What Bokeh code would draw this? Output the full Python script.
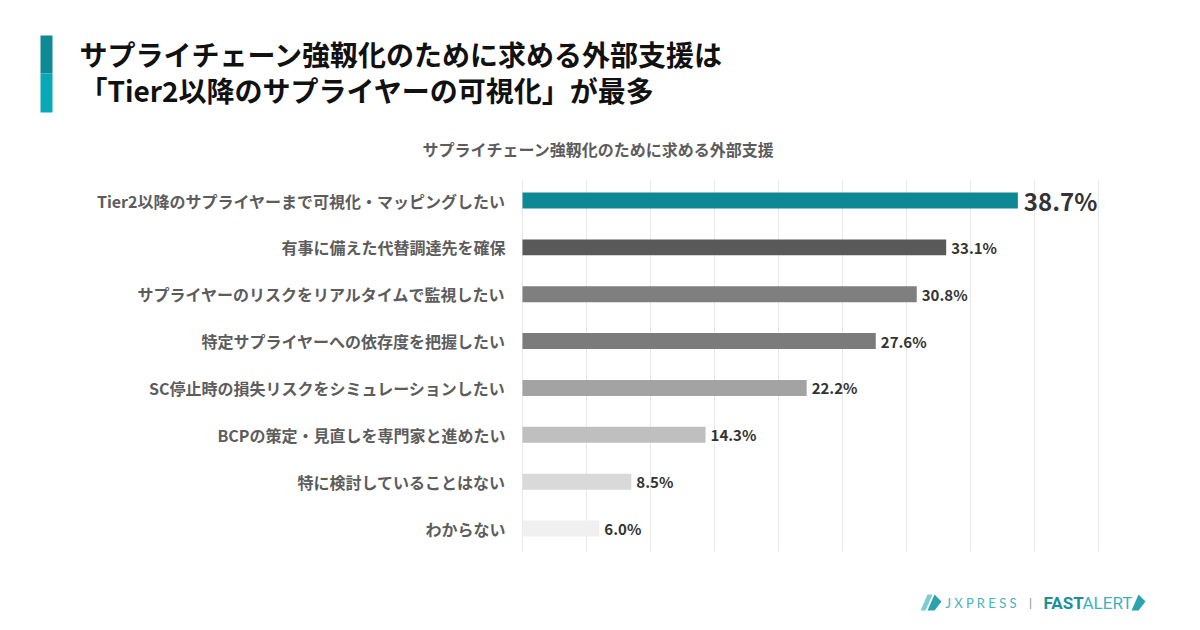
from bokeh.plotting import figure
from bokeh.models import Range1d, ColumnDataSource
from bokeh.core.properties import value
from bokeh.embed import file_html
from bokeh.resources import INLINE

categories = [
    "Tier2以降のサプライヤーまで可視化・マッピングしたい",
    "有事に備えた代替調達先を確保",
    "サプライヤーのリスクをリアルタイムで監視したい",
    "特定サプライヤーへの依存度を把握したい",
    "SC停止時の損失リスクをシミュレーションしたい",
    "BCPの策定・見直しを専門家と進めたい",
    "特に検討していることはない",
    "わからない",
]
values = [38.7, 33.1, 30.8, 27.6, 22.2, 14.3, 8.5, 6.0]
colors = ["#0e8893", "#595959", "#7f7f7f", "#7b7b7b", "#a3a3a3", "#bfbfbf", "#d9d9d9", "#f0f0f0"]
x_ticks = [0, 5, 10, 15, 20, 25, 30, 35, 40, 45]

title_lines = ["サプライチェーン強靱化のために求める外部支援は", "「Tier2以降のサプライヤーの可視化」が最多"]
subtitle = "サプライチェーン強靱化のために求める外部支援"

FONT = "Noto Sans CJK JP"
W, H = 1200, 630

# layout of the plotting area in page pixels
X0_PX = 522.0      # pixel of value 0
PX_PER_UNIT = 12.8  # pixels per percentage point
Y0_PX = 200.0      # pixel of first category centre
PX_PER_ROW = 46.86

x_start = -X0_PX / PX_PER_UNIT
x_end = (W - X0_PX) / PX_PER_UNIT
y_top = -Y0_PX / PX_PER_ROW
y_bottom = (H - Y0_PX) / PX_PER_ROW


def dx(px):
    return (px - X0_PX) / PX_PER_UNIT


def dy(py):
    return (py - Y0_PX) / PX_PER_ROW


p = figure(width=W, height=H, output_backend="svg", toolbar_location=None,
           x_range=Range1d(x_start, x_end), y_range=Range1d(y_bottom, y_top),
           min_border=0)
p.outline_line_color = None
p.background_fill_color = "white"
p.border_fill_color = "white"
p.axis.visible = False
p.grid.visible = False

idx = list(range(len(categories)))

# grid lines
p.segment(x0=x_ticks, x1=x_ticks, y0=[dy(180)] * len(x_ticks), y1=[dy(551)] * len(x_ticks),
          line_color="#e8e8e8", line_width=1)

# bars
src = ColumnDataSource(dict(y=idx, v=values, c=colors))
p.hbar(y="y", right="v", left=0, height=0.34, fill_color="c", line_color=None, source=src)

# category labels
p.text(x=[0] * len(idx), y=idx, text=categories, x_offset=-17, text_align="right",
       text_baseline="middle", text_font=value(FONT), text_font_size="16px",
       text_font_style="bold", text_color="#5c5c5c")

# value labels
src_big = ColumnDataSource(dict(y=idx[:1], v=values[:1], lab=[f"{values[0]:.1f}%"]))
src_small = ColumnDataSource(dict(y=idx[1:], v=values[1:], lab=[f"{v:.1f}%" for v in values[1:]]))
p.text(x="v", y="y", text="lab", source=src_big, x_offset=6, text_baseline="middle",
       text_font=value(FONT), text_font_size="24px", text_font_style="bold", text_color="#333333")
p.text(x="v", y="y", text="lab", source=src_small, x_offset=5, text_baseline="middle",
       text_font=value(FONT), text_font_size="15px", text_font_style="bold", text_color="#333333")

# accent bar next to title
p.quad(left=[dx(40)] * 2, right=[dx(52)] * 2, top=[dy(35), dy(73)], bottom=[dy(73), dy(112)],
       fill_color=["#0f8995", "#0aa7b8"], line_color=None)

# title
p.text(x=[dx(79)] * 2, y=[dy(53), dy(89)], text=title_lines, text_baseline="middle",
       text_font=value(FONT), text_font_size="28px", text_font_style="bold", text_color="#111111")

# chart subtitle
p.text(x=[dx(598)], y=[dy(148)], text=[subtitle], text_align="center", text_baseline="middle",
       text_font=value(FONT), text_font_size="16px", text_font_style="bold", text_color="#5c5c5c")

# logo
p.text(x=[dx(945)], y=[dy(602)], text=["J X P R E S S"], text_baseline="middle",
       text_font=value("Lato"), text_font_size="13px", text_color="#45b3bd")
p.text(x=[dx(1030)], y=[dy(602)], text=["|"], text_baseline="middle", text_align="center",
       text_font=value("Lato"), text_font_size="12px", text_color="#888888")
p.text(x=[dx(1043)], y=[dy(602)], text=["FAST"], text_baseline="middle",
       text_font=value("Roboto"), text_font_size="17px", text_font_style="bold",
       text_color="#1b8f9b")
p.text(x=[dx(1082)], y=[dy(602)], text=["ALERT"], text_baseline="middle",
       text_font=value("Roboto"), text_font_size="17px", text_color="#3fb1bc")
# logo marks
p.patch(x=[dx(920), dx(927), dx(932), dx(925)], y=[dy(610), dy(594), dy(594), dy(610)],
        fill_color="#7fcbd2", line_color=None)
p.patch(x=[dx(927), dx(934), dx(941), dx(934)], y=[dy(610), dy(594), dy(601), dy(610)],
        fill_color="#2aa3ae", line_color=None)
p.patch(x=[dx(1131), dx(1138), dx(1145), dx(1138)], y=[dy(610), dy(594), dy(601), dy(610)],
        fill_color="#2aa3ae", line_color=None)

open("out.html", "w").write(file_html(p, INLINE))
